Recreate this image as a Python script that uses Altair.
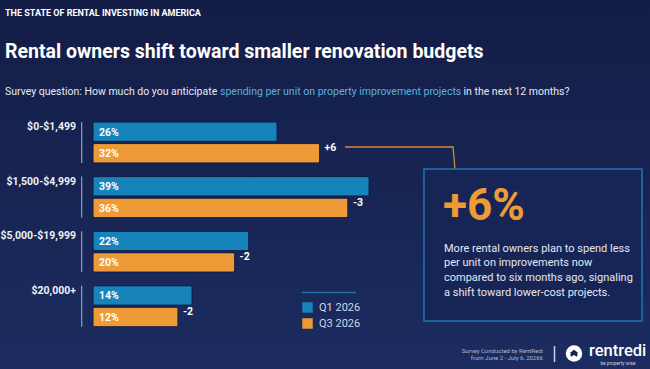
import altair as alt
import pandas as pd

# Survey results: share of owners by planned spend per unit
categories = ["$0-$1,499", "$1,500-$4,999", "$5,000-$19,999", "$20,000+"]
series = ["Q1 2026", "Q3 2026"]
q1_values = [26, 39, 22, 14]
q3_values = [32, 36, 20, 12]

header = "THE STATE OF RENTAL INVESTING IN AMERICA"
title = "Rental owners shift toward smaller renovation budgets"
question = ["Survey question: How much do you anticipate ",
            "spending per unit on property improvement projects",
            " in the next 12 months?"]
callout_body = ("More rental owners plan to spend less\n"
                "per unit on improvements now\n"
                "compared to six months ago, signaling\n"
                "a shift toward lower-cost projects.")
source_lines = ["Survey Conducted by RentRedi", "from June 2 - July 6, 20266"]

BLUE = "#1684ba"
ORANGE = "#ee9a37"
NAVY_TOP = "#131d46"
NAVY_BOTTOM = "#1c2c60"
FONT = "Roboto"

W, H = 650, 369

rows = []
for cat, a, b in zip(categories, q1_values, q3_values):
    rows.append({"cat": cat, "series": series[0], "value": a, "label": f"{a}%"})
    rows.append({"cat": cat, "series": series[1], "value": b, "label": f"{b}%"})
bars_df = pd.DataFrame(rows)

deltas = [b - a for a, b in zip(q1_values, q3_values)]
delta_df = pd.DataFrame({
    "cat": categories,
    "series": series[1],
    "value": q3_values,
    "delta": [f"{d:+d}" for d in deltas],
})
cat_df = pd.DataFrame({"cat": categories})
headline = f"{deltas[0]:+d}%"

one = pd.DataFrame({"k": [0]})

x_scale = alt.Scale(domain=[0, 100], range=[93, 801])
y_scale = alt.Scale(domain=categories, range=[122, 326.7], paddingInner=0.25, paddingOuter=0)
yo_scale = alt.Scale(domain=series, paddingInner=0.1, paddingOuter=0)
color_scale = alt.Scale(domain=series, range=[BLUE, ORANGE])

# page background gradient
background = alt.Chart(one).mark_rect(
    fill=alt.Gradient(gradient="linear",
                      stops=[alt.GradientStop(color=NAVY_TOP, offset=0),
                             alt.GradientStop(color=NAVY_BOTTOM, offset=1)],
                      x1=0, x2=0, y1=0, y2=1)
).encode(x=alt.value(0), x2=alt.value(W), y=alt.value(0), y2=alt.value(H))


def text_at(txt, x, y, size, color="white", weight="normal", align="left",
            baseline="alphabetic", font=FONT):
    return alt.Chart(one).mark_text(
        text=txt, fontSize=size, color=color, fontWeight=weight, align=align,
        baseline=baseline, font=font
    ).encode(x=alt.value(x), y=alt.value(y))


header_t = text_at(header, 5, 15.5, 9, weight="bold")
title_t = text_at(title, 5, 57.5, 19.5, weight="bold")
q_parts = [
    text_at(question[0], 5, 94.5, 10.5, color="#e6eaf3"),
    text_at(question[1], 220, 94.5, 10.5, color="#5fb0de"),
    text_at(question[2], 463.5, 94.5, 10.5, color="#e6eaf3"),
]

# grouped bars
bars = alt.Chart(bars_df).mark_bar(cornerRadius=2, stroke="#0f1a40", strokeWidth=0.6).encode(
    y=alt.Y("cat:N", scale=y_scale, axis=None, sort=categories),
    yOffset=alt.YOffset("series:N", scale=yo_scale, sort=series),
    x=alt.X("value:Q", scale=x_scale, axis=None),
    color=alt.Color("series:N", scale=color_scale, title=None,
                    legend=alt.Legend(orient="none", legendX=302, legendY=302,
                                      symbolType="square", symbolSize=110,
                                      symbolStrokeWidth=0, symbolOpacity=1,
                                      labelColor="#cfd7e8", labelFont=FONT,
                                      labelFontSize=11, labelOffset=6,
                                      rowPadding=4, padding=0)),
)

bar_labels = alt.Chart(bars_df).mark_text(
    align="left", baseline="middle", dx=6, dy=1, font=FONT, fontWeight="bold",
    fontSize=10.5, color="white"
).encode(
    y=alt.Y("cat:N", scale=y_scale, axis=None, sort=categories),
    yOffset=alt.YOffset("series:N", scale=yo_scale, sort=series),
    x=alt.value(93),
    text="label:N",
)

delta_labels = alt.Chart(delta_df).mark_text(
    align="left", baseline="middle", dx=5, dy=-5, font=FONT, fontWeight="bold",
    fontSize=10.5, color="white"
).encode(
    y=alt.Y("cat:N", scale=y_scale, axis=None, sort=categories),
    yOffset=alt.YOffset("series:N", scale=yo_scale, sort=series),
    x=alt.X("value:Q", scale=x_scale, axis=None),
    text="delta:N",
)

cat_labels = alt.Chart(cat_df).mark_text(
    align="right", baseline="middle", dy=5, font=FONT, fontWeight="bold",
    fontSize=10.5, color="#eef1f7"
).encode(
    y=alt.Y("cat:N", scale=y_scale, axis=None, sort=categories, bandPosition=0),
    x=alt.value(76),
    text="cat:N",
)

cat_rules = alt.Chart(cat_df).mark_bar(color="#8796b8").encode(
    y=alt.Y("cat:N", scale=y_scale, axis=None, sort=categories),
    x=alt.value(81),
    x2=alt.value(82.3),
)

# connector from first delta to the callout
conn_h = alt.Chart(one).mark_rule(color="#d88a3c", strokeWidth=1.3).encode(
    x=alt.value(345), x2=alt.value(453.6), y=alt.value(147))
conn_v = alt.Chart(one).mark_rule(color="#d88a3c", strokeWidth=1.3).encode(
    x=alt.value(453), x2=alt.value(455), y=alt.value(147), y2=alt.value(169))

callout_box = alt.Chart(one).mark_rect(
    fill="#172556", stroke="#1f74ab", strokeWidth=1.6
).encode(x=alt.value(424), x2=alt.value(642), y=alt.value(169), y2=alt.value(321))

callout_num = text_at(headline, 443, 220, 44, color=ORANGE, weight="bold")
callout_txt = alt.Chart(one).mark_text(
    text=callout_body, fontSize=11, color="#e4e8f1", font=FONT, align="left",
    baseline="alphabetic", lineBreak="\n", lineHeight=14.8
).encode(x=alt.value(444), y=alt.value(251.5))

legend_rule = alt.Chart(one).mark_rule(color="#1f74ab", strokeWidth=1.3).encode(
    x=alt.value(302), x2=alt.value(356), y=alt.value(292.5))

# footer: source note and brand mark
src1 = text_at(source_lines[0], 543, 353, 6, color="#aeb8d0", align="right")
src2 = text_at(source_lines[1], 543, 360, 6, color="#aeb8d0", align="right")
divider = alt.Chart(one).mark_rule(color="#c8d0e2", strokeWidth=1.5).encode(
    x=alt.value(554.5), y=alt.value(346), y2=alt.value(362))
logo_circle = alt.Chart(one).mark_point(
    shape="circle", filled=True, color="white", opacity=1, size=270
).encode(x=alt.value(574), y=alt.value(353.5))
logo_mark = alt.Chart(one).mark_point(
    shape="M-0.62,0.05 L0,-0.42 L0.62,0.05 M-0.62,0.42 L0,-0.05 L0.62,0.42",
    filled=False, color="#16245a", strokeWidth=2.4, opacity=1, size=110
).encode(x=alt.value(574), y=alt.value(353.5))
brand = text_at("rentredi", 589, 356, 16.5, weight=500)
tagline = text_at("be property wise", 618, 364.5, 4.8, color="#c8d0e2", align="center")

chart = alt.layer(
    background, header_t, title_t, *q_parts,
    cat_rules, bars, bar_labels, delta_labels, cat_labels,
    conn_h, conn_v, callout_box, callout_num, callout_txt, legend_rule,
    src1, src2, divider, logo_circle, logo_mark, brand, tagline,
).properties(
    width=W, height=H, padding=0, autosize=alt.AutoSizeParams(type="none"),
    background=NAVY_TOP,
).configure_view(stroke=None)

chart.save("out.html", embed_options={"renderer": "svg", "actions": False})
